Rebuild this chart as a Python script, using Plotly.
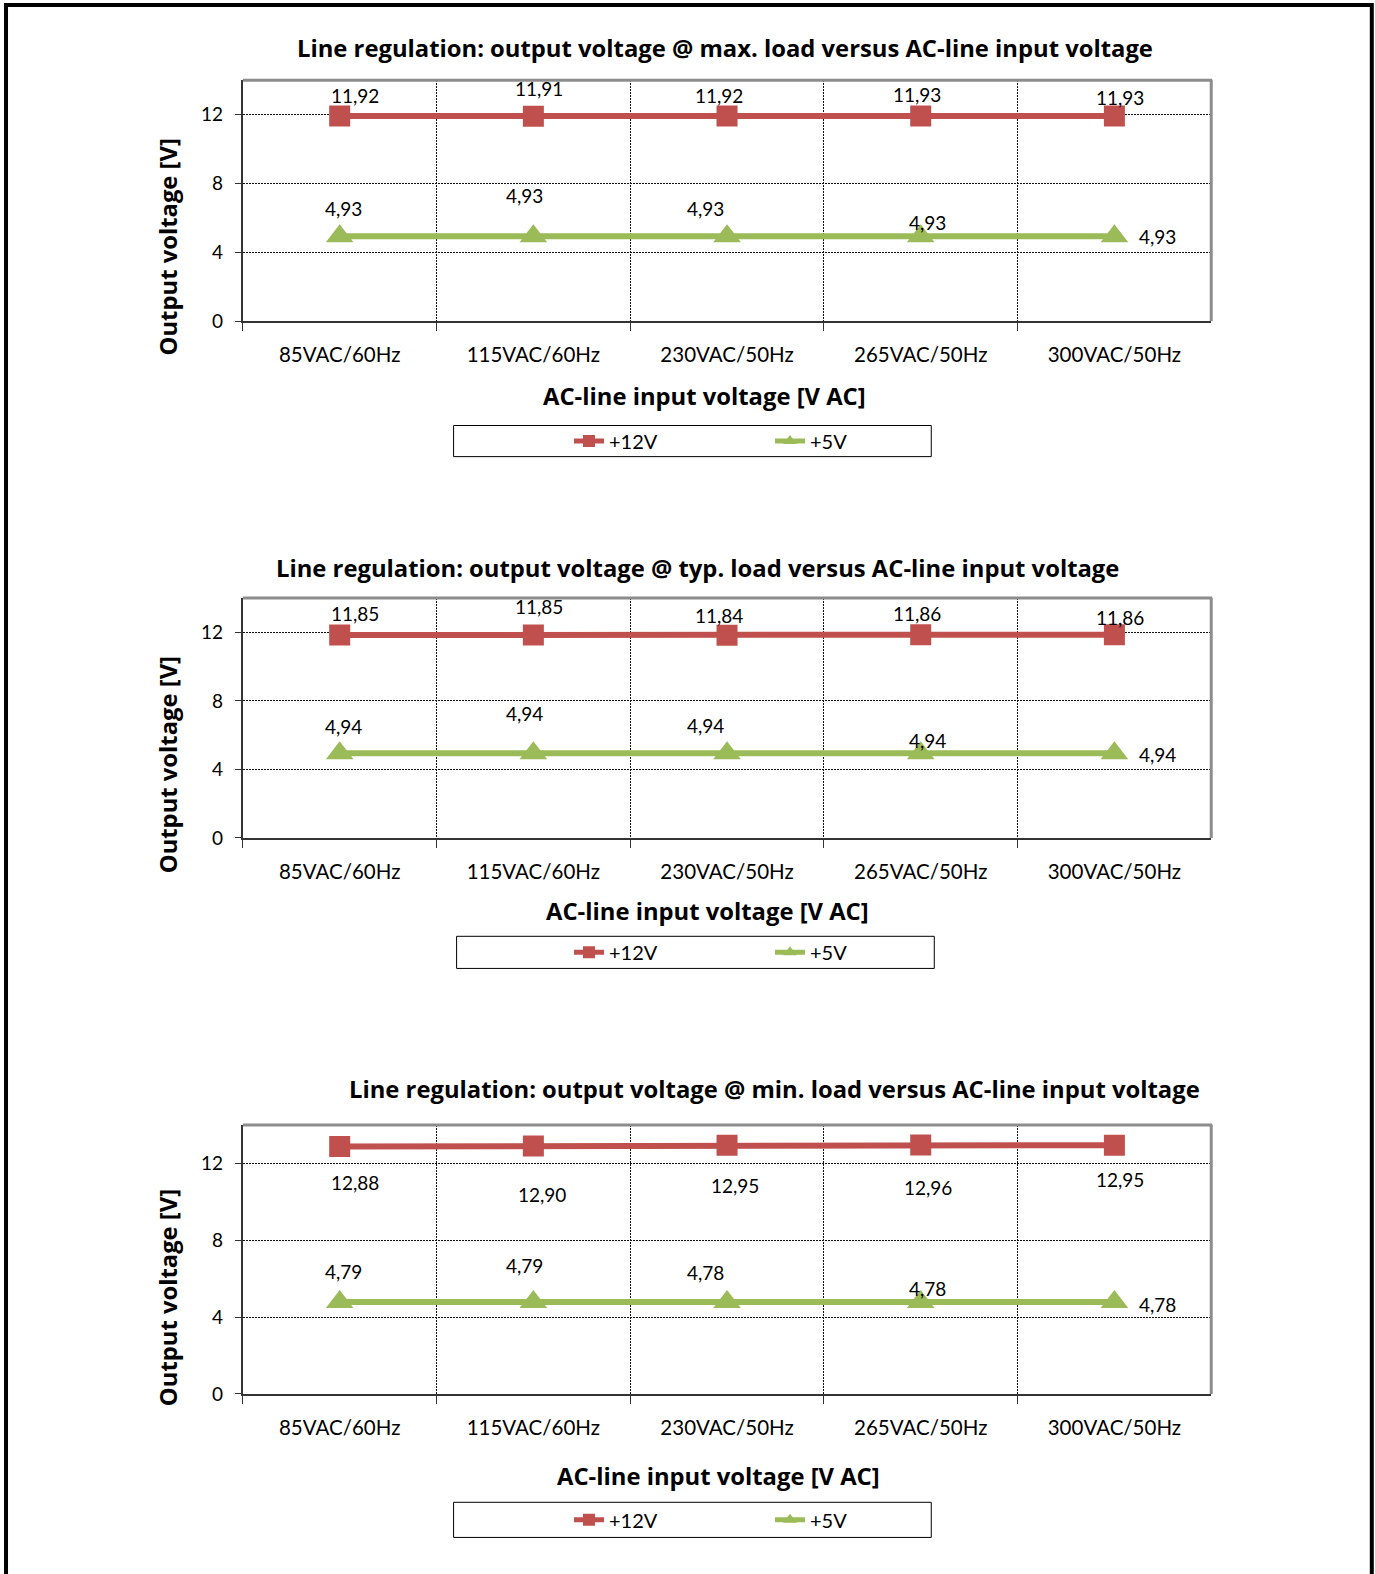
import plotly.graph_objects as go

W, H = 1375, 1574

categories = ["85VAC/60Hz", "115VAC/60Hz", "230VAC/50Hz", "265VAC/50Hz", "300VAC/50Hz"]

max_12v = [11.92, 11.91, 11.92, 11.93, 11.93]
max_5v = [4.93, 4.93, 4.93, 4.93, 4.93]
typ_12v = [11.85, 11.85, 11.84, 11.86, 11.86]
typ_5v = [4.94, 4.94, 4.94, 4.94, 4.94]
min_12v = [12.88, 12.90, 12.95, 12.96, 12.95]
min_5v = [4.79, 4.79, 4.78, 4.78, 4.78]

titles = [
    "Line regulation: output voltage @ max. load versus AC-line input voltage",
    "Line regulation: output voltage @ typ. load versus AC-line input voltage",
    "Line regulation: output voltage @ min. load versus AC-line input voltage",
]
y_ticks = [0, 4, 8, 12]
y_title = "Output voltage [V]"
x_title = "AC-line input voltage [V AC]"
series_names = ["+12V", "+5V"]

RED = "#C0504D"
GREEN = "#9BBB59"
FONT = "Lato"
BFONT = "Open Sans"


def px(x):
    return ((x + 1) / 0.9965) / W


def py(y):
    return 1 - (y / 0.9895) / H


# layout geometry in pixels (per panel)
panels = [
    dict(top=80, bottom=320, title=(721, 48), xt=(701, 395), yt=(166, 246),
         leg=(451, 424, 927, 455)),
    dict(top=596, bottom=835, title=(694, 566), xt=(704, 908), yt=(166, 762),
         leg=(454, 933, 930, 965)),
    dict(top=1121, bottom=1389, title=(771, 1085), xt=(715, 1471), yt=(166, 1293),
         leg=(451, 1497, 927, 1532)),
]
PL, PR = 241, 1206

# label offsets (dx, dy) in px, styling only
off12 = [
    [(15, 21), (6, 28), (-8, 21), (-4, 21), (6, 18)],
    [(15, 21), (6, 28), (-8, 20), (-4, 21), (6, 17)],
    [(15, -36), (9, -48), (8, -40), (7, -43), (6, -34)],
]
off5 = [
    [(4, 28), (-9, 41), (-22, 28), (7, 14), (43, 0)],
    [(4, 27), (-9, 40), (-22, 28), (7, 13), (43, -1)],
    [(4, 30), (-9, 36), (-22, 30), (7, 14), (43, -2)],
]

data = [(max_12v, max_5v), (typ_12v, typ_5v), (min_12v, min_5v)]

fig = go.Figure()
annotations = []
shapes = []

for i, (p, (v12, v5)) in enumerate(zip(panels, data)):
    n = "" if i == 0 else str(i + 1)
    xa, ya = "x" + n, "y" + n
    leg = "legend" + n
    fig.add_trace(go.Scatter(
        x=categories, y=v12, name=series_names[0], mode="lines+markers",
        line=dict(color=RED, width=6), marker=dict(symbol="square", size=21, color=RED),
        xaxis=xa, yaxis=ya, legend=leg, hoverinfo="skip"))
    fig.add_trace(go.Scatter(
        x=categories, y=v5, name=series_names[1], mode="lines+markers",
        line=dict(color=GREEN, width=6), marker=dict(symbol="triangle-up", size=24, color=GREEN),
        xaxis=xa, yaxis=ya, legend=leg, hoverinfo="skip"))

    for vals, offs in ((v12, off12[i]), (v5, off5[i])):
        for c, v, (dx, dy) in zip(categories, vals, offs):
            annotations.append(dict(
                x=c, y=v, xref=xa, yref=ya, text=f"{v:.2f}".replace(".", ","),
                showarrow=False, xshift=dx, yshift=dy, xanchor="center", yanchor="middle",
                font=dict(family=FONT, size=19, color="black")))

    dom_y = [py(p["bottom"]), py(p["top"])]
    axis_x = dict(
        domain=[px(PL), px(PR)], anchor=ya, type="category", range=[-0.5, 4.5],
        tickson="boundaries", ticks="outside", ticklen=8, tickcolor="#333", tickwidth=1,
        showgrid=True, gridcolor="#111", griddash="2px,1px", gridwidth=1,
        showline=True, linecolor="#333", linewidth=2, ticklabelstandoff=14,
        tickfont=dict(family=FONT, size=20.5, color="black"), zeroline=False,
        fixedrange=True)
    axis_y = dict(
        domain=dom_y, anchor=xa, range=[0, 14], tickvals=y_ticks,
        ticks="outside", ticklen=6, tickcolor="#333", tickwidth=1,
        showgrid=True, gridcolor="#111", griddash="2px,1px", gridwidth=1,
        showline=True, linecolor="#333", linewidth=2, zeroline=False,
        tickfont=dict(family=FONT, size=19, color="black"), ticklabelstandoff=8,
        fixedrange=True)
    fig.update_layout(**{"xaxis" + n: axis_x, "yaxis" + n: axis_y})

    # gray top & right frame
    shapes.append(dict(type="line", xref="paper", yref="paper", x0=px(PL), x1=px(PR + 1),
                       y0=py(p["top"]), y1=py(p["top"]), line=dict(color="#8c8c8c", width=3)))
    shapes.append(dict(type="line", xref="paper", yref="paper", x0=px(PR), x1=px(PR),
                       y0=py(p["top"]), y1=py(p["bottom"]), line=dict(color="#8c8c8c", width=3)))
    # legend box
    lx0, ly0, lx1, ly1 = p["leg"]
    shapes.append(dict(type="rect", xref="paper", yref="paper", x0=px(lx0), x1=px(lx1),
                       y0=py(ly1), y1=py(ly0), line=dict(color="black", width=1)))

    common = dict(xref="paper", yref="paper", showarrow=False, xanchor="center", yanchor="middle")
    annotations.append(dict(x=px(p["title"][0]), y=py(p["title"][1]),
                            text="<b>" + titles[i] + "</b>",
                            font=dict(family=BFONT, size=23.8, color="black"), **common))
    annotations.append(dict(x=px(p["xt"][0]), y=py(p["xt"][1]),
                            text="<b>" + x_title + "</b>",
                            font=dict(family=BFONT, size=23.8, color="black"), **common))
    annotations.append(dict(x=px(p["yt"][0]), y=py(p["yt"][1]),
                            text="<b>" + y_title + "</b>", textangle=-90,
                            font=dict(family=BFONT, size=23.8, color="black"), **common))

    fig.update_layout(**{leg: dict(
        x=px(566), y=py((ly0 + ly1) / 2), xanchor="left", yanchor="middle",
        orientation="h", entrywidth=156, entrywidthmode="pixels",
        bgcolor="rgba(0,0,0,0)", borderwidth=0, itemsizing="constant",
        font=dict(family=FONT, size=20, color="black"))})

# outer black frame
shapes.append(dict(type="rect", xref="paper", yref="paper", x0=px(5), x1=px(1366),
                   y0=-0.02, y1=py(5), line=dict(color="black", width=4)))

fig.update_layout(
    width=W, height=H, autosize=False,
    margin=dict(l=0, r=0, t=0, b=0),
    paper_bgcolor="white", plot_bgcolor="white",
    showlegend=True, annotations=annotations, shapes=shapes,
    font=dict(family=FONT),
)

fig.write_html("out.html", config={"displayModeBar": False},
               post_script="document.body.style.margin='0';")
